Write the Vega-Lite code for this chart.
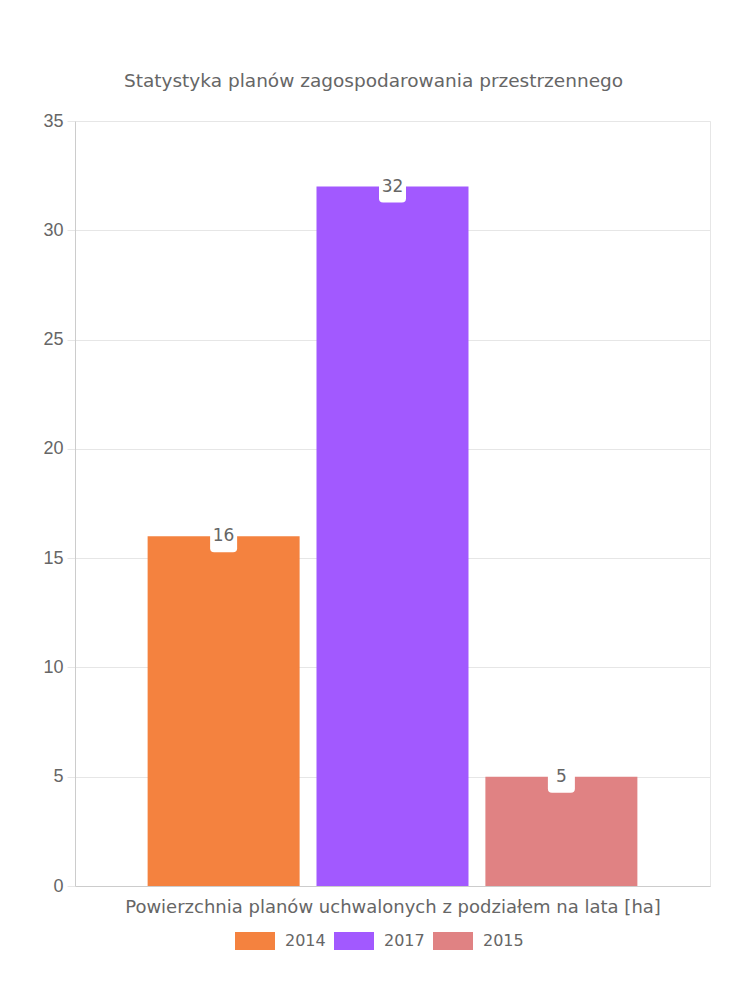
{
  "$schema": "https://vega.github.io/schema/vega-lite/v6.json",
  "width": 635,
  "height": 765,
  "autosize": {"type": "none"},
  "padding": {"left": 75, "top": 121, "right": 40, "bottom": 114},
  "background": "white",
  "config": {
    "view": {"stroke": "#e6e6e6"},
    "font": "DejaVu Sans"
  },
  "title": {
    "text": "Statystyka planów zagospodarowania przestrzennego",
    "font": "DejaVu Sans",
    "fontSize": 18.5,
    "fontWeight": "normal",
    "color": "#666666",
    "anchor": "middle",
    "dx": -19,
    "offset": 22
  },
  "data": {
    "values": [
      {"year": "2014", "value": 16},
      {"year": "2017", "value": 32},
      {"year": "2015", "value": 5}
    ]
  },
  "encoding": {
    "x": {
      "field": "year",
      "type": "nominal",
      "sort": null,
      "scale": {"paddingInner": 0.1, "paddingOuter": 0.43},
      "axis": {
        "labels": false,
        "ticks": false,
        "domain": true,
        "domainColor": "#cccccc",
        "grid": false,
        "title": "Powierzchnia planów uchwalonych z podziałem na lata [ha]",
        "titleFont": "DejaVu Sans",
        "titleFontSize": 18,
        "titleFontWeight": "normal",
        "titleColor": "#666666",
        "titlePadding": 12
      }
    },
    "y": {
      "field": "value",
      "type": "quantitative",
      "scale": {"domain": [0, 35], "nice": false},
      "axis": {
        "values": [0, 5, 10, 15, 20, 25, 30, 35],
        "grid": true,
        "gridColor": "#e6e6e6",
        "domainColor": "#cccccc",
        "tickColor": "#e6e6e6",
        "tickSize": 8,
        "labelFont": "Liberation Sans",
        "labelFontSize": 18,
        "labelColor": "#666666",
        "labelPadding": 4,
        "title": null
      }
    }
  },
  "layer": [
    {
      "mark": {"type": "bar"},
      "encoding": {
        "color": {
          "field": "year",
          "type": "nominal",
          "sort": null,
          "scale": {"domain": ["2014", "2017", "2015"], "range": ["#F4823F", "#A259FF", "#E08283"]},
          "legend": {
            "orient": "none",
            "legendX": 160,
            "legendY": 800,
            "direction": "horizontal",
            "title": null,
            "symbolType": "M-1,-0.45H1V0.45H-1Z",
            "symbolSize": 1600,
            "symbolStrokeWidth": 0,
            "symbolOpacity": 1,
            "labelFont": "DejaVu Sans",
            "labelFontSize": 16,
            "labelColor": "#666666",
            "labelOffset": 10,
            "columnPadding": 8
          }
        }
      }
    },
    {
      "mark": {
        "type": "point",
        "filled": true,
        "fill": "white",
        "opacity": 1,
        "size": 900,
        "strokeWidth": 0,
        "shape": "M-0.63,-0.93H0.63Q0.9,-0.93 0.9,-0.66V0.8Q0.9,1.07 0.63,1.07H-0.63Q-0.9,1.07 -0.9,0.8V-0.66Q-0.9,-0.93 -0.63,-0.93Z"
      }
    },
    {
      "mark": {"type": "text", "baseline": "middle", "align": "center", "dy": 0, "font": "DejaVu Sans", "fontSize": 17, "color": "#666666"},
      "encoding": {
        "text": {"field": "value", "type": "quantitative"}
      }
    }
  ]
}
